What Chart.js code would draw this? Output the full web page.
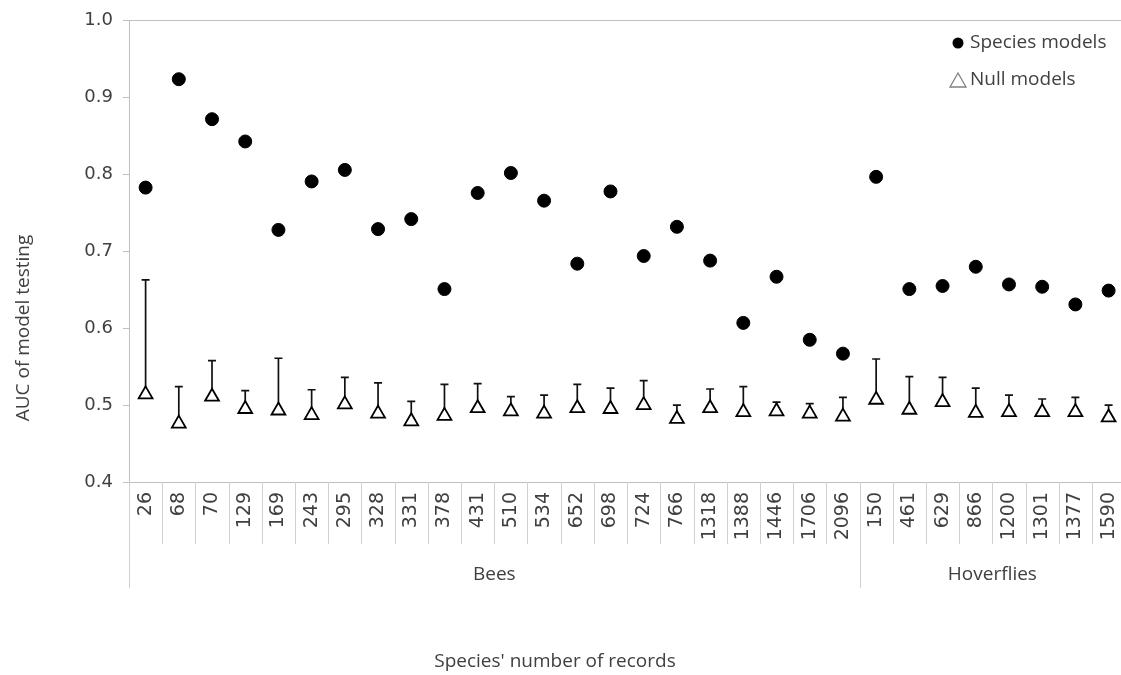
<!DOCTYPE html>
<html>
<head>
<meta charset="utf-8">
<script src="https://cdn.jsdelivr.net/npm/chart.js@4"></script>
<style>
body { margin: 0; background: #fff; overflow: hidden; }
#wrap { width: 1135px; height: 675px; }
</style>
</head>
<body>
<div id="wrap"><canvas id="aucChart"></canvas></div>
<script>

const records = [
"26","68","70","129","169","243","295","328","331","378","431",
"510","534","652","698","724","766","1318","1388","1446","1706","2096",
"150","461","629","866","1200","1301","1377","1590"
];

const groups = ["Bees", "Hoverflies"];
const groupSizes = [22, 8];

const speciesAUC = [
0.783,0.924,0.872,0.843,0.728,0.791,0.806,0.729,0.742,0.651,0.776,
0.802,0.766,0.684,0.778,0.694,0.732,0.688,0.607,0.667,0.585,0.567,
0.797,0.651,0.655,0.680,0.657,0.654,0.631,0.649
];

const nullAUC = [
0.514,0.476,0.511,0.495,0.493,0.487,0.501,0.489,0.479,0.486,0.496,
0.492,0.489,0.496,0.495,0.500,0.482,0.496,0.491,0.492,0.489,0.485,
0.507,0.494,0.504,0.490,0.491,0.491,0.491,0.484
];

// upper end of the null model error bars
const nullUpper = [
0.663,0.524,0.558,0.519,0.561,0.520,0.536,0.529,0.505,0.527,0.528,
0.511,0.513,0.527,0.522,0.532,0.500,0.521,0.524,0.504,0.502,0.510,
0.560,0.537,0.536,0.522,0.513,0.508,0.510,0.500
];

const yMin = 0.4;
const yMax = 1.0;
const yStep = 0.1;

const textColor = "#404040";
const lineGray = "#bfbfbf";


const errorBars = {
id: "errorBars",
beforeDatasetsDraw(chart) {
    const ctx = chart.ctx;
    const x = chart.scales.x;
    const y = chart.scales.y;
    ctx.save();
    ctx.strokeStyle = "#111";
    ctx.lineWidth = 1.7;
    nullUpper.forEach((up, i) => {
        const px = x.getPixelForValue(i);
        const y0 = y.getPixelForValue(nullAUC[i]);
        const y1 = y.getPixelForValue(up);
        ctx.beginPath();
        ctx.moveTo(px, y0);
        ctx.lineTo(px, y1);
        ctx.moveTo(px - 4, y1);
        ctx.lineTo(px + 4, y1);
        ctx.stroke();
    });
    ctx.restore();
}
};


const extras = {
id: "extras",
afterDraw(chart) {
    const ctx = chart.ctx;
    const area = chart.chartArea;
    const step = (area.right - area.left) / records.length;
    const bottom = area.bottom;

    ctx.save();

    // category separators + group separators
    let bounds = [0];
    groupSizes.forEach(n => bounds.push(bounds[bounds.length - 1] + n));

    ctx.strokeStyle = "#d0d0d0";
    ctx.lineWidth = 1;
    for (let k = 0; k <= records.length; k++) {
        const px = Math.round(area.left + k * step) + 0.5;
        const long = bounds.includes(k);
        ctx.beginPath();
        ctx.moveTo(px, bottom);
        ctx.lineTo(px, long ? bottom + 106 : bottom + 62);
        ctx.stroke();
    }

    ctx.fillStyle = textColor;
    ctx.font = "19px 'Open Sans'";
    ctx.textAlign = "center";
    ctx.textBaseline = "middle";
    groups.forEach((g, i) => {
        const cx = area.left + (bounds[i] + bounds[i + 1]) / 2 * step;
        ctx.fillText(g, cx, bottom + 93);
    });

    // axis titles
    ctx.fillText("Species' number of records", 555, 662);

    ctx.save();
    ctx.translate(24, 328);
    ctx.rotate(-Math.PI / 2);
    ctx.fillText("AUC of model testing", 0, 0);
    ctx.restore();

    // legend
    ctx.textAlign = "left";
    ctx.fillStyle = "#000";
    ctx.beginPath();
    ctx.arc(958, 43, 5.5, 0, Math.PI * 2);
    ctx.fill();

    ctx.strokeStyle = "#808080";
    ctx.lineWidth = 1.3;
    ctx.beginPath();
    ctx.moveTo(958, 73);
    ctx.lineTo(966, 87);
    ctx.lineTo(950, 87);
    ctx.closePath();
    ctx.stroke();

    ctx.fillStyle = textColor;
    ctx.font = "19px 'Open Sans'";
    ctx.fillText("Species models", 970, 43);
    ctx.fillText("Null models", 970, 80);

    ctx.restore();
}
};


new Chart(
document.getElementById("aucChart"),
{
type: "line",

data: {
labels: records,
datasets: [
{
label: "Species models",
data: speciesAUC,
showLine: false,
pointStyle: "circle",
pointRadius: 6.5,
pointHoverRadius: 6.5,
backgroundColor: "#000",
borderColor: "#000"
},
{
label: "Null models",
data: nullAUC,
showLine: false,
pointStyle: "triangle",
pointRadius: 8,
pointHoverRadius: 8,
pointBorderWidth: 1.8,
backgroundColor: "#fff",
borderColor: "#000"
}
]
},

options: {
responsive: true,
maintainAspectRatio: false,
animation: false,
layout: {
padding: { top: 19, left: 0, right: 0, bottom: 0 }
},
plugins: {
legend: { display: false },
tooltip: { enabled: false }
},
scales: {
x: {
type: "category",
offset: true,
grid: { display: false, drawTicks: false },
border: { display: true, color: lineGray },
ticks: {
autoSkip: false,
minRotation: 90,
maxRotation: 90,
padding: 10,
color: textColor,
font: { family: "DejaVu Sans", size: 19 }
},
afterFit(scale) {
scale.height = 193;
scale.paddingLeft = 0;
scale.paddingRight = 0;
}
},
y: {
min: yMin,
max: yMax,
ticks: {
stepSize: yStep,
padding: 10,
color: textColor,
font: { family: "DejaVu Sans", size: 18 },
callback: v => v.toFixed(1)
},
grid: {
drawTicks: true,
tickLength: 6,
tickColor: lineGray,
color: c => (c.tick && Math.abs(c.tick.value - yMax) < 1e-6) ? lineGray : "rgba(0,0,0,0)"
},
border: { color: lineGray },
afterFit(scale) {
scale.width = 129;
}
}
}
},

plugins: [errorBars, extras]

});

</script>
</body>
</html>
